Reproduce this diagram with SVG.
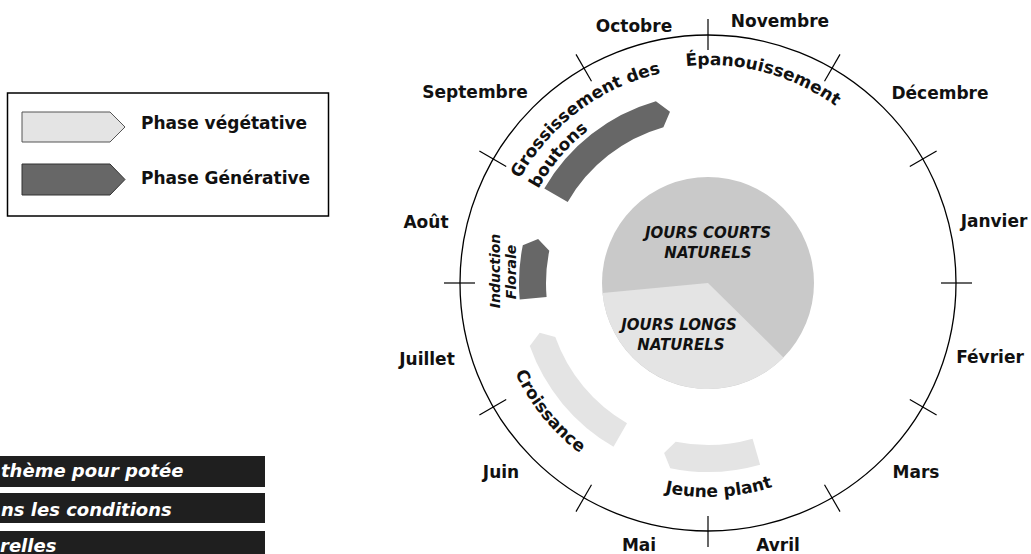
<svg xmlns="http://www.w3.org/2000/svg" width="1031" height="554" viewBox="0 0 1031 554">
<style>
text{font-family:"DejaVu Sans","Liberation Sans",sans-serif;font-weight:bold;fill:#111}
.m{font-size:17px;text-anchor:middle}
.arc{font-size:17px}
.pie{font-size:15px;font-style:italic;text-anchor:middle}
.ind{font-size:14px;font-style:italic;text-anchor:middle}
.bar{font-size:18px;font-style:italic;fill:#fff}
.leg{font-size:17px}
.dark{fill:#676767}
.light{fill:#e4e4e4}
.tick{stroke:#000;stroke-width:1.2}
</style>
<defs>
<path id="pGross" d="M 520 178.8 A 215 215 0 0 1 815.5 96.8" fill="none"/>
<path id="pBout" d="M 538.3 188.9 A 194 194 0 0 1 805 115" fill="none"/>
<path id="pEpan" d="M 599 94.2 A 218 218 0 0 1 896.8 174" fill="none"/>
<path id="pCroi" d="M 495.8 264.4 A 213 213 0 0 0 682 494.4" fill="none"/>
<path id="pJeune" d="M 570.4 446.9 A 214 214 0 0 0 861.9 431.7" fill="none"/>
</defs>
<rect width="1031" height="554" fill="#fff"/>

<g id="legend">
<rect x="7.5" y="93" width="321" height="123" fill="#fff" stroke="#000" stroke-width="1.5"/>
<polygon points="22,112 110,112 125,127 110,142 22,142" fill="#e4e4e4" stroke="#555" stroke-width="1"/>
<polygon points="22,164 110,164 125,179.5 110,195 22,195" fill="#676767" stroke="#333" stroke-width="1"/>
<text class="leg" x="141" y="129">Phase végétative</text>
<text class="leg" x="141" y="184">Phase Générative</text>
</g>

<g id="caption">
<rect x="0" y="456" width="265" height="31" fill="#1f1f1f"/>
<rect x="0" y="493" width="265" height="30" fill="#1f1f1f"/>
<rect x="0" y="531" width="265" height="23" fill="#1f1f1f"/>
<text class="bar" x="1" y="477">thème pour potée</text>
<text class="bar" x="1" y="516">ns les conditions</text>
<text class="bar" x="0" y="552">relles</text>
</g>

<g id="pie">
<circle cx="708" cy="283" r="106" fill="#c9c9c9"/>
<path d="M 708 283 L 783.4 357.4 A 106 106 0 0 1 602.5 293 Z" fill="#e4e4e4"/>
<text class="pie" x="708" y="238">JOURS COURTS</text>
<text class="pie" x="708" y="258">NATURELS</text>
<text class="pie" x="679" y="330">JOURS LONGS</text>
<text class="pie" x="681" y="350">NATURELS</text>
</g>

<g id="calendar">
<circle cx="708" cy="283" r="248" fill="none" stroke="#000" stroke-width="1.3"/>
<g id="ticks">
<line class="tick" x1="941" y1="283" x2="972" y2="283"/>
<line class="tick" x1="909.8" y1="399.5" x2="936.6" y2="415"/>
<line class="tick" x1="824.5" y1="484.8" x2="840" y2="511.6"/>
<line class="tick" x1="708" y1="516" x2="708" y2="547"/>
<line class="tick" x1="591.5" y1="484.8" x2="576" y2="511.6"/>
<line class="tick" x1="506.2" y1="399.5" x2="479.4" y2="415"/>
<line class="tick" x1="475" y1="283" x2="444" y2="283"/>
<line class="tick" x1="506.2" y1="166.5" x2="479.4" y2="151"/>
<line class="tick" x1="591.5" y1="81.2" x2="576" y2="54.4"/>
<line class="tick" x1="708" y1="50" x2="708" y2="19"/>
<line class="tick" x1="824.5" y1="81.2" x2="840" y2="54.4"/>
<line class="tick" x1="909.8" y1="166.5" x2="936.6" y2="151"/>
</g>
<g id="months">
<text class="m" x="634" y="32">Octobre</text>
<text class="m" x="780" y="27">Novembre</text>
<text class="m" x="940" y="99">Décembre</text>
<text class="m" x="994" y="227">Janvier</text>
<text class="m" x="990" y="363">Février</text>
<text class="m" x="916" y="478">Mars</text>
<text class="m" x="778" y="551">Avril</text>
<text class="m" x="639" y="551">Mai</text>
<text class="m" x="501" y="478">Juin</text>
<text class="m" x="427" y="365">Juillet</text>
<text class="m" x="426" y="228">Août</text>
<text class="m" x="475" y="98">Septembre</text>
</g>
</g>

<g id="grossissement">
<path class="dark" d="M 544.3 188.5 A 189 189 0 0 1 655.9 101.3 L 670 111.7 L 663.4 127.3 A 162 162 0 0 0 567.7 202 Z"/>
<text class="arc"><textPath href="#pGross">Grossissement des</textPath></text>
<text class="arc"><textPath href="#pBout">boutons</textPath></text>
</g>

<g id="epanouissement">
<text class="arc" text-anchor="middle"><textPath href="#pEpan" startOffset="50%">Épanouissement</textPath></text>
</g>

<g id="induction">
<path class="dark" d="M 519.7 299.5 A 189 189 0 0 1 522.8 245.3 L 538.1 239.1 L 549.3 250.7 A 162 162 0 0 0 546.6 297.1 Z"/>
<text class="ind" transform="translate(500 271) rotate(-90)" x="0" y="0">Induction</text>
<text class="ind" transform="translate(516 272) rotate(-90)" x="0" y="0">Florale</text>
</g>

<g id="croissance">
<path class="light" d="M 613.5 446.7 A 189 189 0 0 1 529.8 346.1 L 539.7 332.8 L 555.3 337.1 A 162 162 0 0 0 627 423.3 Z"/>
<text class="arc" text-anchor="middle"><textPath href="#pCroi" startOffset="50%">Croissance</textPath></text>
</g>

<g id="jeune-plant">
<path class="light" d="M 760.1 464.7 A 189 189 0 0 1 670.3 468.2 L 664.1 452.9 L 675.7 441.7 A 162 162 0 0 0 752.6 438.7 Z"/>
<text class="arc" text-anchor="middle"><textPath href="#pJeune" startOffset="50%">Jeune plant</textPath></text>
</g>
</svg>
